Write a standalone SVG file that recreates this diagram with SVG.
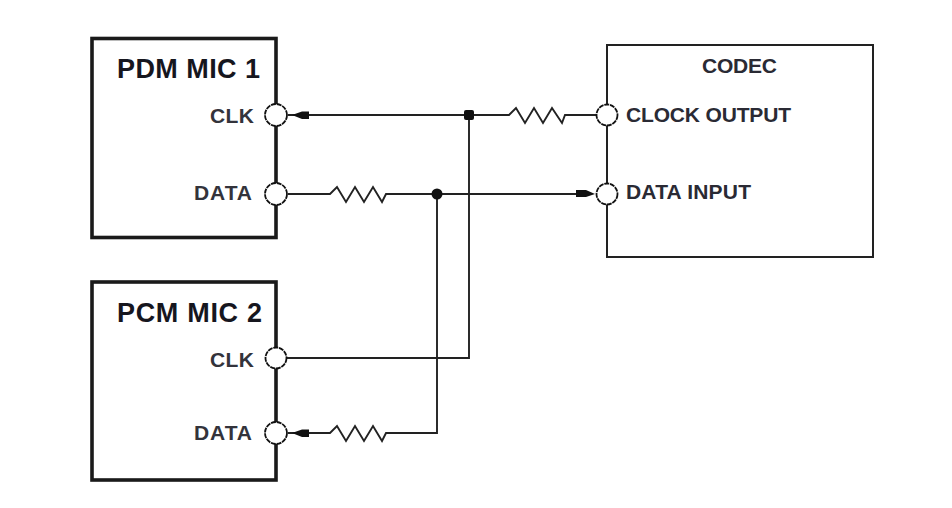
<svg xmlns="http://www.w3.org/2000/svg" width="952" height="508" viewBox="0 0 952 508">
<style>
.b{fill:none;stroke:#1a1a1a;stroke-width:3.6}
.t{fill:none;stroke:#222;stroke-width:2}
.w{fill:none;stroke:#222;stroke-width:1.9;stroke-linejoin:miter}
.p{fill:#fff;stroke:#111;stroke-width:1.8;stroke-dasharray:5 0.8}
.h{font-family:"Liberation Sans",Arial,sans-serif;font-weight:700;font-size:27px;fill:#16161e}
.l{font-family:"Liberation Sans",Arial,sans-serif;font-weight:700;font-size:21px;fill:#33333b}
.c{font-family:"Liberation Sans",Arial,sans-serif;font-weight:700;font-size:21px;fill:#2a2a34}
.d{fill:#111}
</style>
<rect width="952" height="508" fill="#fff"/>
<g id="connectors">
<path class="w" d="M288 115H469M469 115V358H286M469 115H509L516 108L525 123L534 108L543 123L552 108L562 123L565 115H597"/>
<path class="w" d="M288 194H330L337 187L346 202L355 187L364 202L373 187L382 202L386 194H587"/>
<path class="w" d="M437 194V433H386L382 441L373 426L364 441L355 426L346 441L337 426L330 433H288"/>
<path class="d" d="M292 115L302 111.500H309V119H302Z"/>
<path class="d" d="M595 194L586 197H576V190H586Z"/>
<path class="d" d="M292 433L302 429.500H309V437H302Z"/>
<rect class="d" x="464" y="110" width="10" height="10" rx="2"/>
<circle class="d" cx="437" cy="194" r="5.500"/>
</g>
<g id="pdm-mic-1">
<rect class="b" x="92" y="38.500" width="184" height="199"/>
<text class="h" x="117" y="78" textLength="143" lengthAdjust="spacing">PDM MIC 1</text>
<text class="l" x="210" y="123" textLength="44" lengthAdjust="spacing">CLK</text>
<text class="l" x="194" y="200" textLength="58" lengthAdjust="spacing">DATA</text>
<circle class="p" cx="276" cy="115" r="11"/>
<circle class="p" cx="276" cy="194" r="11"/>
</g>
<g id="pcm-mic-2">
<rect class="b" x="92" y="282" width="184" height="198"/>
<text class="h" x="117" y="322" textLength="145" lengthAdjust="spacing">PCM MIC 2</text>
<text class="l" x="210" y="367" textLength="44" lengthAdjust="spacing">CLK</text>
<text class="l" x="194" y="440" textLength="58" lengthAdjust="spacing">DATA</text>
<circle class="p" cx="276" cy="358" r="10.500"/>
<circle class="p" cx="276" cy="433" r="11"/>
</g>
<g id="codec">
<rect class="t" x="607" y="45" width="266" height="212"/>
<text class="c" x="702" y="73" textLength="75" lengthAdjust="spacing">CODEC</text>
<text class="c" x="626" y="122" textLength="165" lengthAdjust="spacing">CLOCK OUTPUT</text>
<text class="c" x="626" y="199" textLength="125" lengthAdjust="spacing">DATA INPUT</text>
<circle class="p" cx="607" cy="115" r="10.500"/>
<circle class="p" cx="607" cy="194" r="10.500"/>
</g>
</svg>
